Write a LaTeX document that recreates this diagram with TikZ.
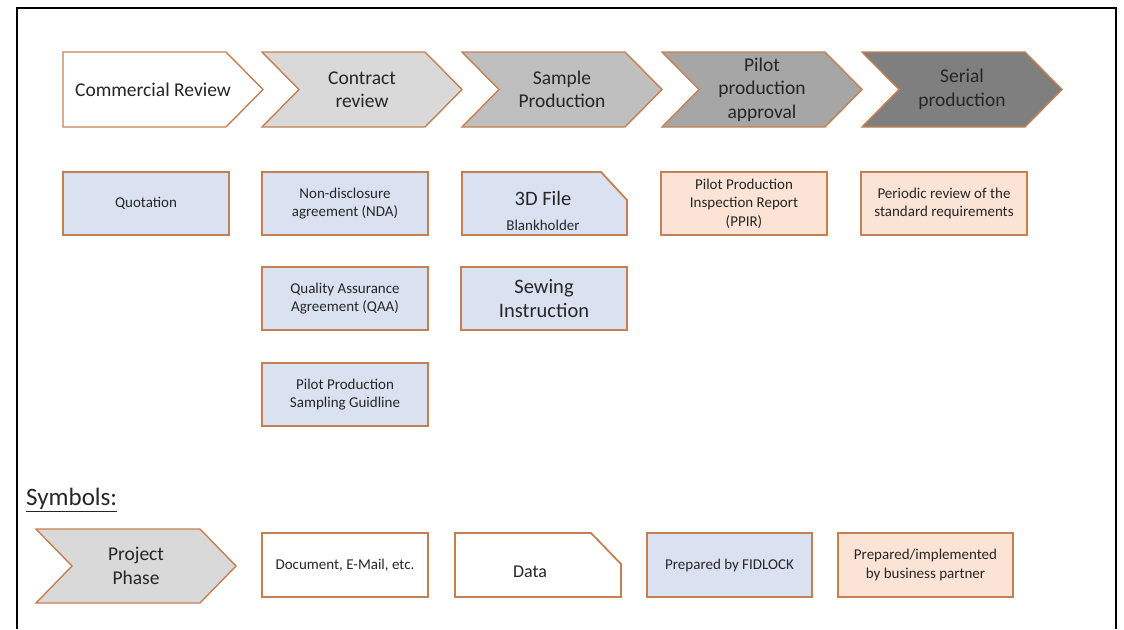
\documentclass[tikz,border=0pt]{standalone}
\usepackage{fontspec}
\setmainfont{Carlito}
\definecolor{edge}{RGB}{197,128,82}
\definecolor{fidblue}{RGB}{218,226,242}
\definecolor{partner}{RGB}{251,228,213}
\definecolor{txt}{RGB}{38,38,38}
\definecolor{gA}{RGB}{217,217,217}
\definecolor{gB}{RGB}{191,191,191}
\definecolor{gC}{RGB}{166,166,166}
\definecolor{gD}{RGB}{127,127,127}
\tikzset{
  phase/.style={draw=edge, line width=1.4pt, line join=miter},
  phasetext/.style={text=txt, align=center, font=\fontsize{19.5}{23.5}\selectfont},
  docbox/.style={draw=edge, line width=1.8pt},
  boxtext/.style={text=txt, align=center, font=\fontsize{15}{18.5}\selectfont},
  bigtext/.style={text=txt, align=center, font=\fontsize{20.5}{24}\selectfont},
}
\begin{document}
\begin{tikzpicture}[x=1pt,y=-1pt]
\useasboundingbox (0,0) rectangle (1124,629);
% frame
\draw[line width=2.4pt] (17,629) -- (17,8) -- (1116,8) -- (1116,629);

% phases
\draw[phase, fill=white] (63,52) -- (226,52) -- (263,89.5) -- (226,127) -- (63,127) -- cycle;
\node[phasetext] (cr) at (153,89.5) {Commercial Review};

\draw[phase, fill=gA] (262,52) -- (425,52) -- (462,89.5) -- (425,127) -- (262,127) -- (299,89.5) -- cycle;
\node[phasetext] (ctr) at (362,89.5) {Contract\\review};

\draw[phase, fill=gB] (462,52) -- (625,52) -- (662,89.5) -- (625,127) -- (462,127) -- (499,89.5) -- cycle;
\node[phasetext] (sp) at (562,89.5) {Sample\\Production};

\draw[phase, fill=gC] (662,52) -- (825,52) -- (862,89.5) -- (825,127) -- (662,127) -- (699,89.5) -- cycle;
\node[phasetext] (ppa) at (762,89.5) {Pilot\\production\\approval};

\draw[phase, fill=gD] (862,52) -- (1025,52) -- (1062,89.5) -- (1025,127) -- (862,127) -- (899,89.5) -- cycle;
\node[phasetext] (serp) at (962,89.5) {Serial\\production};

% documents row 1
\draw[docbox, fill=fidblue] (63,172) rectangle (229,235);
\node[boxtext] (quot) at (146,203.5) {Quotation};

\draw[docbox, fill=fidblue] (262,172) rectangle (428,235);
\node[boxtext] (nda) at (345,203.5) {Non-disclosure\\agreement (NDA)};

\draw[docbox, fill=fidblue, line join=miter] (462,172) -- (601,172) -- (627,200) -- (627,235) -- (462,235) -- cycle;
\node[bigtext] (file3d) at (543,198) {3D File};
\node[boxtext] (blank) at (543,225) {Blankholder};

\draw[docbox, fill=partner] (661,172) rectangle (827,235);
\node[boxtext] (ppir) at (744,203.5) {Pilot Production\\Inspection Report\\(PPIR)};

\draw[docbox, fill=partner] (861,172) rectangle (1027,235);
\node[boxtext] (peri) at (944,203.5) {Periodic review of the\\standard requirements};

% row 2
\draw[docbox, fill=fidblue] (262,267) rectangle (428,330);
\node[boxtext] (qaa) at (345,298.5) {Quality Assurance\\Agreement (QAA)};

\draw[docbox, fill=fidblue] (461,267) rectangle (627,330);
\node[bigtext] (sew) at (544,298.5) {Sewing\\Instruction};

% row 3
\draw[docbox, fill=fidblue] (262,363) rectangle (428,426);
\node[boxtext] (ppsg) at (345,394.5) {Pilot Production\\Sampling Guidline};

% symbols
\node[text=txt, anchor=west, font=\fontsize{25}{30}\selectfont, inner sep=0pt] (sym) at (26,500) {\underline{Symbols:}};

\draw[phase, fill=gA] (36,529) -- (200,529) -- (236,566) -- (200,603) -- (36,603) -- (72,566) -- cycle;
\node[phasetext] (pp) at (136,566) {Project\\Phase};

\draw[docbox, fill=white] (262,533) rectangle (428,597);
\node[boxtext] (doc) at (345,565) {Document, E-Mail, etc.};

\draw[docbox, fill=white, line join=miter] (455,533) -- (591,533) -- (621,564) -- (621,597) -- (455,597) -- cycle;
\node[text=txt, font=\fontsize{18}{22}\selectfont] (data) at (530,572) {Data};

\draw[docbox, fill=fidblue] (647,533) rectangle (812,597);
\node[boxtext] (fid) at (729.5,565) {Prepared by FIDLOCK};

\draw[docbox, fill=partner] (838,533) rectangle (1013,597);
\node[boxtext] (bp) at (925.5,565) {Prepared/implemented\\by business partner};
\end{tikzpicture}
\end{document}
